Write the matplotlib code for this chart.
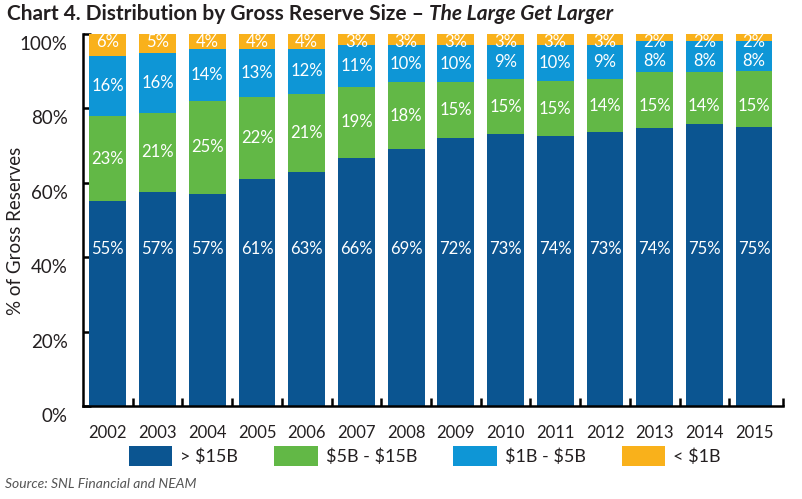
import matplotlib
matplotlib.use("Agg")
import matplotlib.pyplot as plt
import matplotlib.transforms as mtransforms
from matplotlib.patches import Patch
import numpy as np

years = ["2002", "2003", "2004", "2005", "2006", "2007", "2008",
         "2009", "2010", "2011", "2012", "2013", "2014", "2015"]
over_15b = [55, 57, 57, 61, 63, 66, 69, 72, 73, 74, 73, 74, 75, 75]
b5_15 = [23, 21, 25, 22, 21, 19, 18, 15, 15, 15, 14, 15, 14, 15]
b1_5 = [16, 16, 14, 13, 12, 11, 10, 10, 9, 10, 9, 8, 8, 8]
under_1b = [6, 5, 4, 4, 4, 3, 3, 3, 3, 3, 3, 2, 2, 2]
series_names = ["> $15B", "$5B - $15B", "$1B - $5B", "< $1B"]
yticks = [0, 20, 40, 60, 80, 100]
ytick_labels = ["0%", "20%", "40%", "60%", "80%", "100%"]

colors = ["#0B5591", "#62B846", "#0E96D6", "#F9B11B"]
txt = "#231F20"

plt.rcParams["font.family"] = ["Lato", "DejaVu Sans"]
plt.rcParams["text.parse_math"] = False

fig = plt.figure(figsize=(8.03, 4.99), dpi=100)
ax = fig.add_axes([0.1034, 0.1864, 0.8716, 0.7455])

series = [np.array(s, dtype=float) for s in (over_15b, b5_15, b1_5, under_1b)]
total = sum(series)
x = np.arange(len(years))
# label placement limits (fraction of axis, in % units) per series
label_cap = [None, 80.7, 92.8, None]
bottom = np.zeros(len(years))
for i, s in enumerate(series):
    h = s / total * 100
    ax.bar(x, h, bottom=bottom, width=0.74, color=colors[i], zorder=2)
    for j in range(len(years)):
        if i == 0:
            yy = 42.3
        elif i == 3:
            yy = 97.8
        else:
            yy = min(bottom[j] + h[j] / 2, label_cap[i])
        ax.text(x[j], yy, f"{int(s[j])}%", ha="center", va="center",
                color="white", fontsize=12, zorder=3)
    bottom = bottom + h

ax.set_xlim(-0.5, 13.58)
ax.set_ylim(0, 100)

for side in ("top", "right"):
    ax.spines[side].set_visible(False)
for side in ("left", "bottom"):
    ax.spines[side].set_linewidth(1.8)
    ax.spines[side].set_color("black")

ax.set_yticks(yticks)
ax.set_yticklabels(ytick_labels, fontsize=13.5, color=txt)
ax.tick_params(axis="y", direction="in", length=6, width=1.8, pad=11)
offset = mtransforms.ScaledTranslation(0, -9 / 100, fig.dpi_scale_trans)
for lab in ax.get_yticklabels():
    lab.set_transform(lab.get_transform() + offset)

ax.set_xticks(x)
ax.set_xticklabels(years, fontsize=12, color=txt)
ax.tick_params(axis="x", which="major", length=0, pad=14)
ax.set_xticks(list(np.arange(0.5, 13, 1.0)) + [13.58], minor=True)
ax.tick_params(axis="x", which="minor", direction="in", length=6, width=1.8)

ax.set_ylabel("% of Gross Reserves", fontsize=13.5, color=txt, labelpad=6)
ax.yaxis.set_label_coords(-0.085, 0.47)

t1 = fig.text(0.009, 0.972, "Chart 4. Distribution by Gross Reserve Size \u2013 ",
              fontsize=15, fontweight="bold", color=txt, va="center", ha="left")
fig.canvas.draw()
bb = t1.get_window_extent()
fig.text(bb.x1 / fig.bbox.width, 0.972, "The Large Get Larger",
         fontsize=15, fontweight="bold", style="italic", color=txt,
         va="center", ha="left")

handles = [Patch(facecolor=c, edgecolor="none") for c in colors]
fig.legend(handles, series_names, loc="center", bbox_to_anchor=(0.529, 0.086),
           ncol=4, frameon=False, fontsize=13, handlelength=2.4,
           handleheight=1.3, columnspacing=2.0, handletextpad=0.45,
           labelcolor=txt)

fig.text(0.006, 0.03, "Source: SNL Financial and NEAM", fontsize=10,
         style="italic", color="#555555", va="center", ha="left")

fig.savefig("out.png", dpi=100)
